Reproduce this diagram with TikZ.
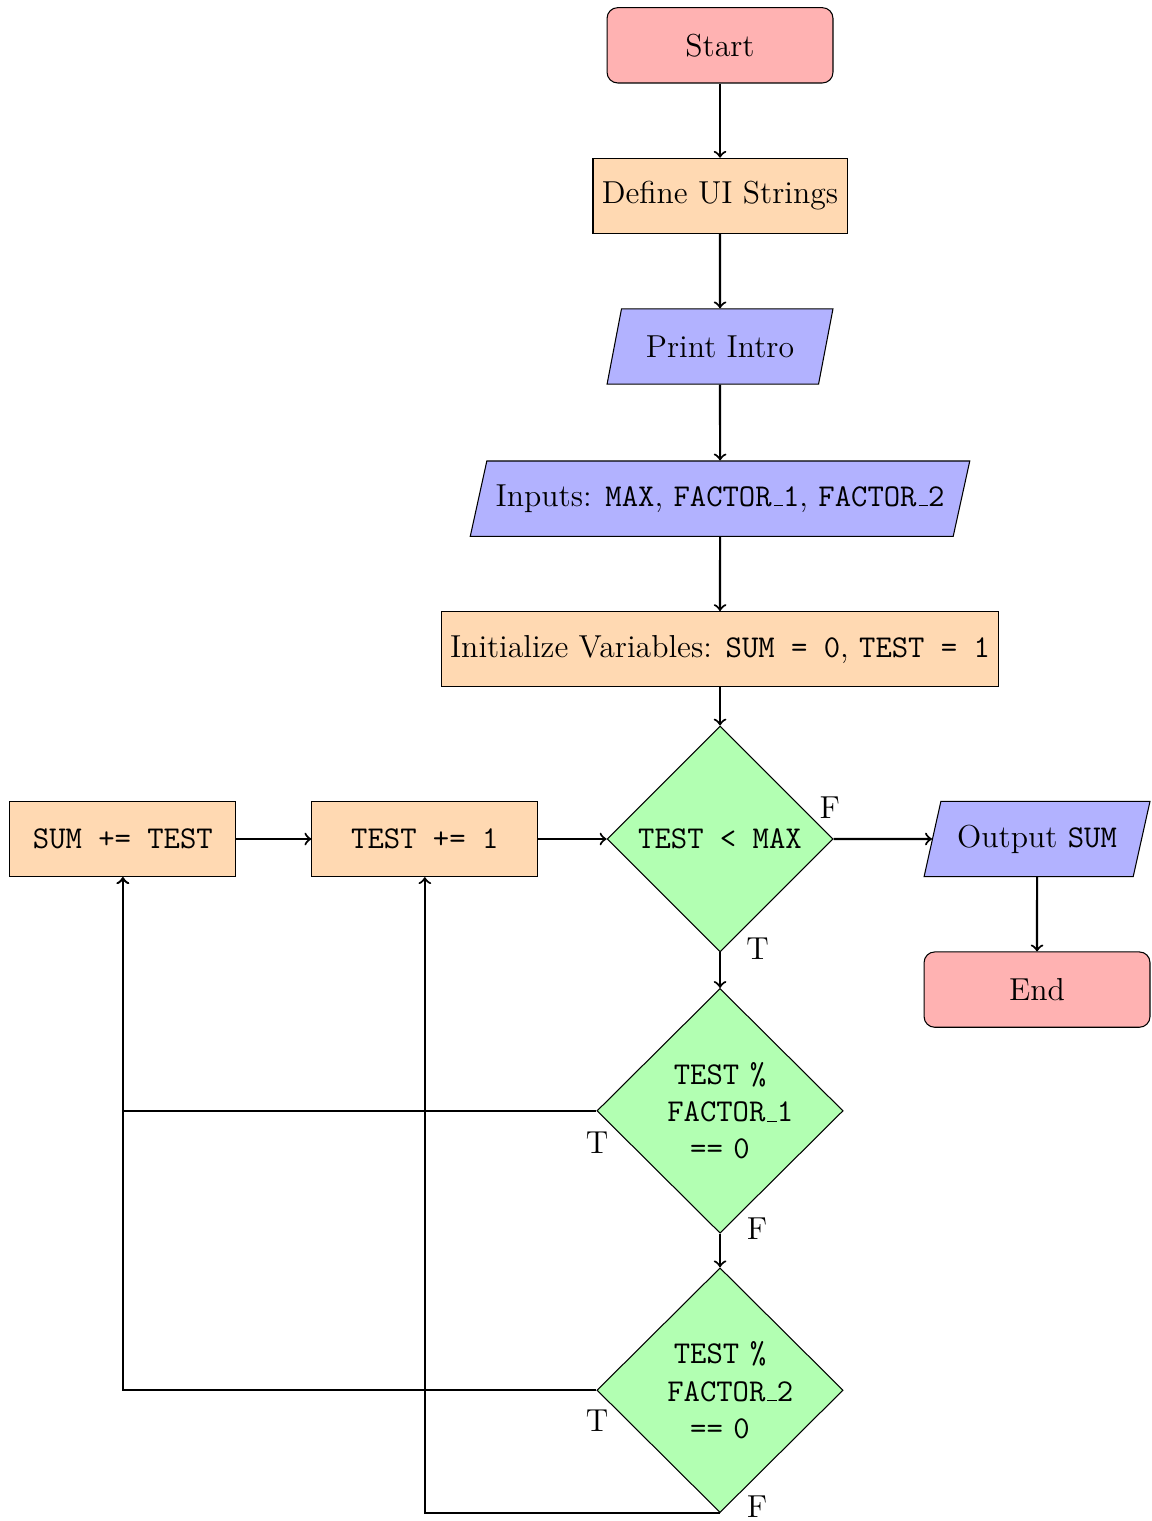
\documentclass[tikz,border=0pt]{standalone}
\usetikzlibrary{shapes.geometric,positioning}
\newcommand{\usc}{\leavevmode\kern.06em\vbox{\hrule width.3em}}
\begin{document}
\begin{tikzpicture}[
 every node/.style={font=\large},
 startstop/.style={rectangle, rounded corners, minimum width=3cm, minimum height=1cm, align=center, draw=black, fill=red!30},
 io/.style={trapezium, trapezium left angle=70, trapezium right angle=110, trapezium stretches body, minimum width=3cm, minimum height=1cm, align=center, draw=black, fill=blue!30},
 process/.style={rectangle, minimum width=3cm, minimum height=1cm, align=center, draw=black, fill=orange!30},
 decision/.style={diamond, minimum width=3cm, minimum height=3cm, align=center, draw=black, fill=green!30},
 arrow/.style={thick,->},
 lbl/.style={inner sep=0pt}
]
\useasboundingbox (-9.562,-9.057) rectangle (5.724,11.142);

\node (start) [startstop] at (0,10.54) {Start};
\node (def) [process] at (0,8.54) {Define UI Strings};
\node (print) [io] at (0,6.54) {Print Intro};
\node (in) [io] at (0,4.52) {Inputs: \texttt{MAX}, \texttt{FACTOR\usc1}, \texttt{FACTOR\usc2}};
\node (init) [process] at (0,2.52) {Initialize Variables: \texttt{SUM = 0}, \texttt{TEST = 1}};
\node (d1) [decision] at (0,0) {\texttt{TEST < MAX}};
\node (out) [io] at (4.21,0) {Output \texttt{SUM}};
\node (end) [startstop] at (4.21,-2.0) {End};
\node (tst) [process] at (-3.92,0) {\texttt{TEST += 1}};
\node (sum) [process] at (-7.93,0) {\texttt{SUM += TEST}};
\node (d2) [decision, text width=1.4cm, minimum width=3.27cm, minimum height=3.25cm] at (0,-3.61) {\texttt{TEST \%}\\\texttt{FACTOR\usc1}\\\texttt{== 0}};
\node (d3) [decision, text width=1.4cm, minimum width=3.27cm, minimum height=3.25cm] at (0,-7.32) {\texttt{TEST \%}\\\texttt{FACTOR\usc2}\\\texttt{== 0}};

\draw[arrow] (start) -- (def);
\draw[arrow] (def) -- (print);
\draw[arrow] (print) -- (in);
\draw[arrow] (in) -- (init);
\draw[arrow] (init) -- (d1);
\draw[arrow] (d1) -- (out);
\draw[arrow] (out) -- (end);
\draw[arrow] (sum) -- (tst);
\draw[arrow] (tst) -- (d1);
\draw[arrow] (d1) -- (d2);
\draw[arrow] (d2) -- (d3);
\draw[arrow] (d2.west) -| (sum.south);
\draw[arrow] (d3.west) -| (sum.south);
\draw[arrow] (d3.south) -| (tst.south);

\node (l1) [lbl] at ([shift={(-0.05,0.41)}]d1.east) {F};
\node (l2) [lbl] at ([shift={(0.50,0.05)}]d1.south) {T};
\node (l3) [lbl] at ([shift={(0.01,-0.42)}]d2.west) {T};
\node (l4) [lbl] at ([shift={(0.49,0.07)}]d2.south) {F};
\node (l5) [lbl] at ([shift={(0.01,-0.41)}]d3.west) {T};
\node (l6) [lbl] at ([shift={(0.49,0.08)}]d3.south) {F};
\end{tikzpicture}
\end{document}
